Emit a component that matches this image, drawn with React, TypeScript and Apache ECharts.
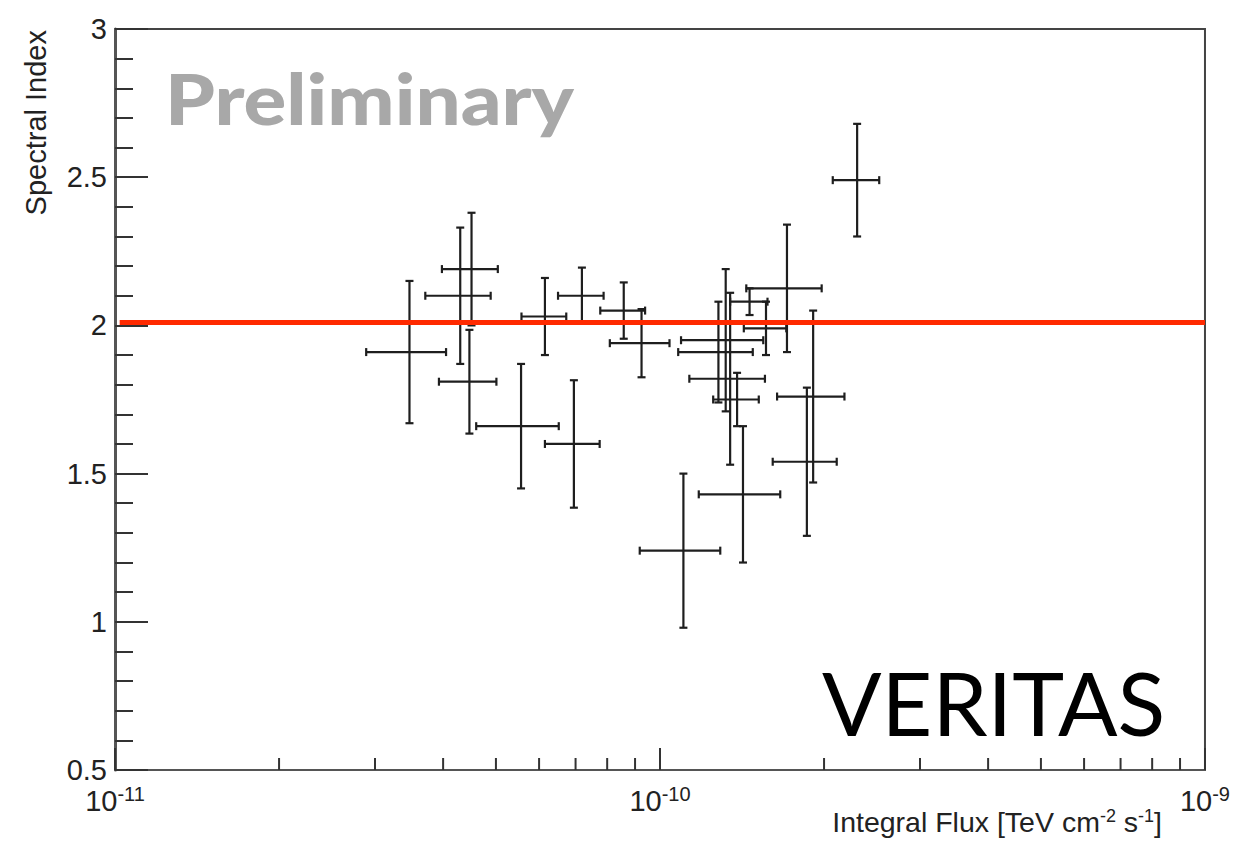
import React, { useEffect, useRef } from "react";
import * as echarts from "echarts";

// Integral flux [TeV cm^-2 s^-1] and its error, spectral index and its error
const fluxes = [3.47e-11, 4.30e-11, 4.51e-11, 4.47e-11, 5.56e-11, 6.15e-11, 6.95e-11, 7.19e-11, 8.58e-11, 9.25e-11, 1.104e-10, 1.42e-10, 1.86e-10, 1.91e-10, 1.71e-10, 2.30e-10, 1.32e-10, 1.28e-10, 1.345e-10, 1.385e-10, 1.46e-10, 1.565e-10];
const fluxErrs = [0.58e-11, 0.59e-11, 0.53e-11, 0.54e-11, 0.96e-11, 0.58e-11, 0.80e-11, 0.69e-11, 0.81e-11, 1.16e-11, 1.86e-11, 2.42e-11, 2.5e-11, 2.7e-11, 2.7e-11, 2.25e-11, 2.27e-11, 2.0e-11, 2.13e-11, 1.33e-11, 1.15e-11, 1.4e-11];
const indices = [1.91, 2.10, 2.19, 1.81, 1.66, 2.03, 1.60, 2.10, 2.05, 1.94, 1.24, 1.43, 1.54, 1.76, 2.125, 2.49, 1.95, 1.91, 1.82, 1.75, 2.08, 1.99];
const indexErrs = [0.24, 0.23, 0.19, 0.175, 0.21, 0.13, 0.215, 0.095, 0.095, 0.115, 0.26, 0.23, 0.25, 0.29, 0.215, 0.19, 0.24, 0.17, 0.29, 0.09, 0.045, 0.09];

const referenceIndex = 2.01;
const xMinorTicks = [2e-11, 3e-11, 4e-11, 5e-11, 6e-11, 7e-11, 8e-11, 9e-11, 2e-10, 3e-10, 4e-10, 5e-10, 6e-10, 7e-10, 8e-10, 9e-10];

const FONT = "Liberation Sans";

export default function App() {
  const ref = useRef<HTMLDivElement>(null);
  useEffect(() => {
    document.body.style.margin = "0";
    const chart = echarts.init(ref.current!, null, { renderer: "svg" });
    const points = fluxes.map((f, i) => [f, fluxErrs[i], indices[i], indexErrs[i]]);
    const option: any = {
      animation: false,
      backgroundColor: "#ffffff",
      grid: {
        left: 115, right: 23, top: 29, bottom: 71,
        show: true, borderColor: "#444", borderWidth: 2, backgroundColor: "transparent",
      },
      xAxis: {
        type: "log", logBase: 10, min: 1e-11, max: 1e-9,
        axisLine: { show: true, lineStyle: { color: "#555", width: 2 } },
        axisTick: { show: true, inside: true, length: 22, lineStyle: { color: "#333", width: 2 } },
        splitLine: { show: false },
        axisLabel: {
          margin: 14,
          color: "#222",
          fontFamily: FONT,
          fontSize: 29,
          formatter: (v: number) => "10{sup|" + Math.round(Math.log10(v)) + "}",
          rich: { sup: { fontSize: 20, fontFamily: FONT, color: "#222", verticalAlign: "top", padding: [0, 0, 14, 0] } },
        },
      },
      yAxis: {
        type: "value", min: 0.5, max: 3, interval: 0.5,
        axisLine: { show: true, lineStyle: { color: "#555", width: 3 } },
        axisTick: { show: true, inside: true, length: 33, lineStyle: { color: "#333", width: 2 } },
        minorTick: { show: true, splitNumber: 5, length: 18, lineStyle: { color: "#333", width: 2 } },
        splitLine: { show: false },
        axisLabel: { margin: 8, color: "#222", fontFamily: FONT, fontSize: 29 },
      },
      series: [
        {
          type: "custom",
          data: xMinorTicks.map((v) => [v]),
          silent: true,
          renderItem: (_p: any, api: any) => {
            const c = api.coord([api.value(0), 0.5]);
            return { type: "line", shape: { x1: c[0], y1: c[1], x2: c[0], y2: c[1] - 12 }, style: { stroke: "#333", lineWidth: 2 } };
          },
        },
        {
          type: "custom",
          data: points,
          silent: true,
          z: 3,
          renderItem: (_p: any, api: any) => {
            const x = api.value(0), xe = api.value(1), y = api.value(2), ye = api.value(3);
            const c = api.coord([x, y]);
            const l = api.coord([x - xe, y]);
            const r = api.coord([x + xe, y]);
            const t = api.coord([x, y + ye]);
            const b = api.coord([x, y - ye]);
            const cap = 4;
            const style = { stroke: "#1e1e1e", lineWidth: 2.2 };
            const line = (x1: number, y1: number, x2: number, y2: number) => ({ type: "line", shape: { x1, y1, x2, y2 }, style });
            return {
              type: "group",
              children: [
                line(l[0], c[1], r[0], c[1]),
                line(c[0], t[1], c[0], b[1]),
                line(l[0], c[1] - cap, l[0], c[1] + cap),
                line(r[0], c[1] - cap, r[0], c[1] + cap),
                line(c[0] - cap, t[1], c[0] + cap, t[1]),
                line(c[0] - cap, b[1], c[0] + cap, b[1]),
              ],
            };
          },
        },
        {
          type: "line",
          data: [[1.02e-11, referenceIndex], [1e-9, referenceIndex]],
          symbol: "none",
          z: 5,
          lineStyle: { color: "#ff2a00", width: 5 },
          silent: true,
        },
      ],
      graphic: [
        {
          type: "text", x: 165, y: 98, z: 10, scaleX: 1.14,
          style: { text: "Preliminary", fontFamily: "Lato", fontWeight: 900, fontSize: 70, fill: "#a8a8a8", align: "left", verticalAlign: "middle" },
        },
        {
          type: "text", x: 822, y: 702, z: 10,
          style: { text: "VERITAS", fontFamily: "Lato", fontSize: 88, fill: "#000", align: "left", verticalAlign: "middle" },
        },
        {
          type: "text", x: 1162, y: 822, z: 10,
          style: {
            text: "Integral Flux [TeV cm{sup|-2} s{sup|-1}]",
            fontFamily: FONT, fontSize: 28.5, fill: "#222", align: "right", verticalAlign: "middle",
            rich: { sup: { fontFamily: FONT, fontSize: 18, fill: "#222", verticalAlign: "top", padding: [0, 0, 12, 0] } },
          },
        },
        {
          type: "text", x: 36, y: 30, rotation: Math.PI / 2, z: 10,
          style: { text: "Spectral Index", fontFamily: FONT, fontSize: 29, fill: "#222", align: "right", verticalAlign: "middle" },
        },
      ],
    };
    chart.setOption(option);
    return () => chart.dispose();
  }, []);
  return <div ref={ref} style={{ width: 1233, height: 841 }} />;
}
